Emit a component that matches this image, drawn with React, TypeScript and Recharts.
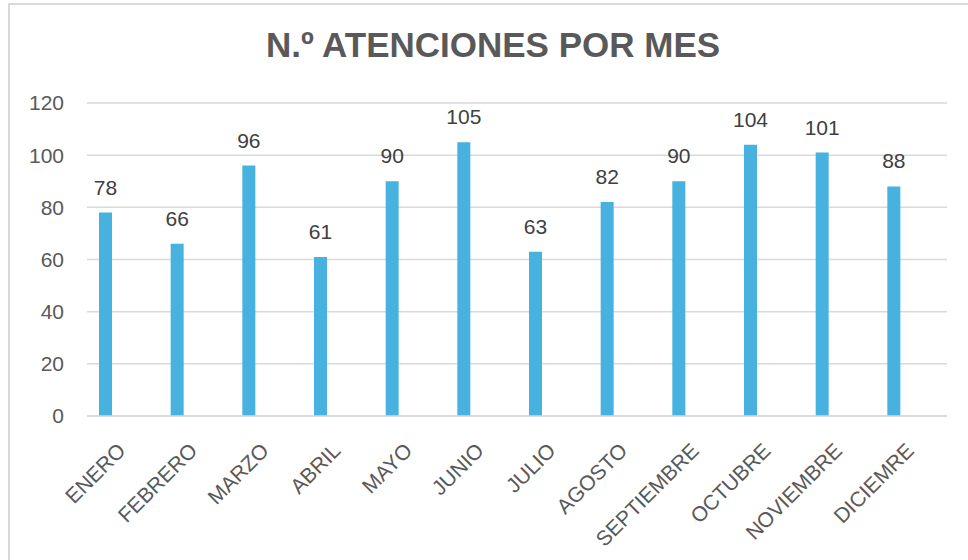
import { BarChart, Bar, XAxis, YAxis, CartesianGrid, LabelList } from "recharts"

const months = [
  "ENERO",
  "FEBRERO",
  "MARZO",
  "ABRIL",
  "MAYO",
  "JUNIO",
  "JULIO",
  "AGOSTO",
  "SEPTIEMBRE",
  "OCTUBRE",
  "NOVIEMBRE",
  "DICIEMRE",
]
const atenciones = [78, 66, 96, 61, 90, 105, 63, 82, 90, 104, 101, 88]
const yTicks = [0, 20, 40, 60, 80, 100, 120]

const data = months.map((mes, i) => ({ mes, atenciones: atenciones[i] }))

const FONT = "'Liberation Sans', Arial, sans-serif"

const MonthTick = ({ x, y, payload }: any) => {
  const tx = x + 4
  const ty = y + 34
  return (
    <text
      x={tx}
      y={ty}
      transform={`rotate(-45, ${tx}, ${ty})`}
      textAnchor="end"
      fill="#595959"
      fontSize={21}
      fontFamily={FONT}
    >
      {payload.value}
    </text>
  )
}

export default function App() {
  return (
    <div style={{ position: "absolute", left: 0, top: 0, width: 968, height: 560, overflow: "hidden", background: "#fff" }}>
      <div
        style={{
          position: "absolute",
          left: 8,
          top: 3,
          width: 990,
          height: 600,
          border: "2px solid #d9d9d9",
          boxSizing: "border-box",
        }}
      />
      <div
        style={{
          position: "absolute",
          left: 0,
          top: 25,
          width: 986,
          textAlign: "center",
          fontFamily: FONT,
          fontWeight: "bold",
          fontSize: 35,
          color: "#595959",
          lineHeight: "40px",
        }}
      >
        N.º ATENCIONES POR MES
      </div>
      <div style={{ position: "absolute", left: 0, top: 0 }}>
        <BarChart width={968} height={560} data={data} margin={{ top: 103, right: 21, bottom: 0, left: 0 }} barGap={21}>
          <CartesianGrid vertical={false} stroke="#d9d9d9" strokeWidth={1.5} />
          <XAxis
            dataKey="mes"
            height={144}
            interval={0}
            axisLine={{ stroke: "#d9d9d9", strokeWidth: 1.5 }}
            tickLine={false}
            tickSize={0}
            tick={<MonthTick />}
          />
          <YAxis
            width={87}
            domain={[0, 120]}
            ticks={yTicks}
            axisLine={false}
            tickLine={false}
            tickSize={0}
            tickMargin={23}
            tick={{ fill: "#595959", fontSize: 21, fontFamily: FONT }}
          />
          <Bar dataKey="atenciones" fill="#47b1e0" barSize={13} isAnimationActive={false}>
            <LabelList dataKey="atenciones" position="top" offset={18} fill="#404040" fontSize={21} fontFamily={FONT} />
          </Bar>
          <Bar dataKey="serie2" fill="#a5a5a5" barSize={13} isAnimationActive={false} />
        </BarChart>
      </div>
    </div>
  )
}
